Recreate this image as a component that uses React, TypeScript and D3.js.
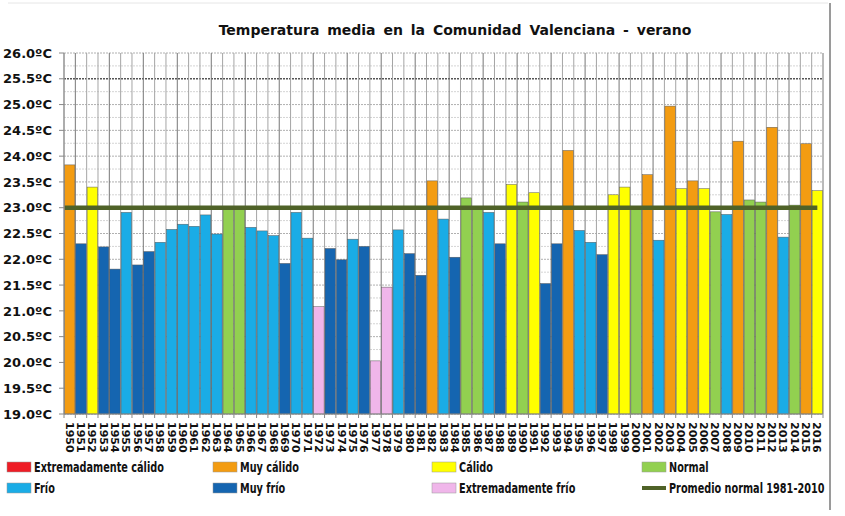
import React from 'react';
import * as d3 from 'd3';

// Verano, Comunidad Valenciana (ºC)
const years = d3.range(1950, 2017);
const temps = [
  23.83, 22.30, 23.40, 22.24, 21.81, 22.91, 21.89, 22.15, 22.33, 22.58,
  22.68, 22.64, 22.86, 22.49, 23.02, 23.01, 22.62, 22.55, 22.46, 21.92,
  22.91, 22.41, 21.08, 22.21, 21.99, 22.39, 22.25, 20.03, 21.46, 22.57,
  22.11, 21.69, 23.52, 22.78, 22.04, 23.19, 23.02, 22.91, 22.30, 23.45,
  23.11, 23.29, 21.53, 22.30, 24.11, 22.56, 22.33, 22.09, 23.25, 23.40,
  23.02, 23.64, 22.37, 24.97, 23.37, 23.52, 23.37, 22.92, 22.87, 24.29,
  23.15, 23.11, 24.56, 22.43, 23.05, 24.24, 23.33,
];
const classes = [
  'mc', 'mf', 'c', 'mf', 'mf', 'f', 'mf', 'mf', 'f', 'f',
  'f', 'f', 'f', 'f', 'n', 'n', 'f', 'f', 'f', 'mf',
  'f', 'f', 'ef', 'mf', 'mf', 'f', 'mf', 'ef', 'ef', 'f',
  'mf', 'mf', 'mc', 'f', 'mf', 'n', 'n', 'f', 'mf', 'c',
  'n', 'c', 'mf', 'mf', 'mc', 'f', 'f', 'mf', 'c', 'c',
  'n', 'mc', 'f', 'mc', 'c', 'mc', 'c', 'n', 'f', 'mc',
  'n', 'n', 'mc', 'f', 'n', 'mc', 'c',
];
const normalMean = 23.0;
const yTicks = d3.range(19, 26.01, 0.5);

const legendKeys = ['ec', 'mc', 'c', 'n', 'f', 'mf', 'ef', 'avg'];
const legendLabels = [
  'Extremadamente cálido', 'Muy cálido', 'Cálido', 'Normal',
  'Frío', 'Muy frío', 'Extremadamente frío', 'Promedio normal 1981-2010',
];
const colors: Record<string, string> = {
  ec: '#ee1c25',
  mc: '#f39c12',
  c: '#ffff00',
  n: '#92d050',
  f: '#1aace6',
  mf: '#1565b0',
  ef: '#f0b6ea',
  avg: '#4f6228',
};

const W = 845;
const H = 516;
const margin = { top: 53, right: 22, bottom: 102, left: 64 };
const legendCols = [7, 213, 432, 642];
const legendRows = [467, 488];

export default function App() {
  const x = d3.scaleBand<number>()
    .domain(years)
    .range([margin.left, W - margin.right])
    .paddingInner(0.08)
    .paddingOuter(0.04);
  const y = d3.scaleLinear()
    .domain([19, 26])
    .range([H - margin.bottom, margin.top]);

  const minorTicks = d3.range(19.25, 26, 0.5);
  const step = x.step();
  const bounds = years.map((yr) => (x(yr) as number) - step * 0.04);
  bounds.push(W - margin.right);

  const avgX1 = (x(years[0]) as number) + x.bandwidth() / 2 - 5;
  const avgX2 = (x(years[years.length - 1]) as number) + x.bandwidth() / 2;

  return (
    <svg width={W} height={H} style={{ position: 'absolute', left: 0, top: 0, background: '#fff' }}
      fontFamily="'DejaVu Sans', Verdana, sans-serif">
      <defs>
        <filter id="blur" x="-5%" y="-200%" width="110%" height="500%">
          <feGaussianBlur stdDeviation="1.6" />
        </filter>
      </defs>

      {/* rejilla */}
      {minorTicks.map((t) => (
        <line key={'m' + t} x1={margin.left} x2={W - margin.right} y1={y(t)} y2={y(t)}
          stroke="#d4d4d4" strokeWidth={1} strokeDasharray="2,1" />
      ))}
      {yTicks.map((t) => (
        <line key={'g' + t} x1={margin.left} x2={W - margin.right} y1={y(t)} y2={y(t)}
          stroke={Math.abs(t - 25.5) < 0.01 ? '#555' : '#b0b0b0'}
          strokeWidth={Math.abs(t - 25.5) < 0.01 ? 1.4 : 1} strokeDasharray="2,1" />
      ))}
      {bounds.map((bx, i) => (
        <line key={'v' + i} x1={bx} x2={bx} y1={y(26)} y2={y(19)}
          stroke={i % 3 === 1 ? '#777' : '#a5a5a5'} strokeWidth={1} />
      ))}

      {/* barras */}
      {years.map((yr, i) => (
        <rect key={yr} x={x(yr)} width={x.bandwidth()} y={y(temps[i])}
          height={y(19) - y(temps[i])} fill={colors[classes[i]]}
          stroke="#5a5a5a" strokeWidth={0.5} />
      ))}

      {/* promedio normal */}
      <line x1={avgX1} x2={avgX2} y1={y(normalMean) + 1} y2={y(normalMean) + 1}
        stroke="#3d4a20" strokeWidth={8} opacity={0.55} filter="url(#blur)" />
      <line x1={avgX1} x2={avgX2} y1={y(normalMean)} y2={y(normalMean)}
        stroke={colors.avg} strokeWidth={4.5} />

      {/* ejes */}
      <line x1={margin.left} x2={margin.left} y1={y(26)} y2={y(19)} stroke="#888" />
      <line x1={margin.left} x2={W - margin.right} y1={y(19)} y2={y(19)} stroke="#888" />
      {yTicks.map((t) => (
        <g key={'yt' + t}>
          <line x1={margin.left - 5} x2={margin.left} y1={y(t)} y2={y(t)} stroke="#888" />
          <text x={52} y={y(t)} dy="0.36em" textAnchor="end" fontSize={13}
            fontWeight="bold" fill="#111">{t.toFixed(1) + 'ºC'}</text>
        </g>
      ))}
      {bounds.map((bx, i) => (
        <line key={'xt' + i} x1={bx} x2={bx} y1={y(19)} y2={y(19) + 4} stroke="#888" />
      ))}
      {years.map((yr) => (
        <text key={'xl' + yr} fontSize={11} fontWeight="bold" fill="#111"
          transform={`translate(${(x(yr) as number) + x.bandwidth() / 2},${y(19) + 8}) rotate(90)`}
          dy="0.36em">{yr}</text>
      ))}

      {/* título */}
      <text x={455} y={35} textAnchor="middle" fontSize={14} fontWeight="bold"
        wordSpacing={3} fill="#111">
        Temperatura media en la Comunidad Valenciana - verano
      </text>

      {/* leyenda */}
      {legendKeys.map((k, i) => {
        const lx = legendCols[i % 4];
        const ly = legendRows[Math.floor(i / 4)];
        return (
          <g key={k}>
            {k === 'avg'
              ? <line x1={lx} x2={lx + 24} y1={ly} y2={ly} stroke={colors.avg} strokeWidth={4} />
              : <rect x={lx} y={ly - 5} width={24} height={10} fill={colors[k]}
                stroke="#999" strokeWidth={0.5} />}
            <text transform={`translate(${lx + 27},${ly}) scale(0.72,1)`} dy="0.36em"
              fontSize={13.5} fontWeight="bold" fill="#111">{legendLabels[i]}</text>
          </g>
        );
      })}

      {/* marco */}
      <line x1={8} x2={828} y1={3} y2={3} stroke="#e6e6e6" />
      <line x1={830} x2={830} y1={3} y2={510} stroke="#9a9a9a" strokeWidth={2} />
    </svg>
  );
}
